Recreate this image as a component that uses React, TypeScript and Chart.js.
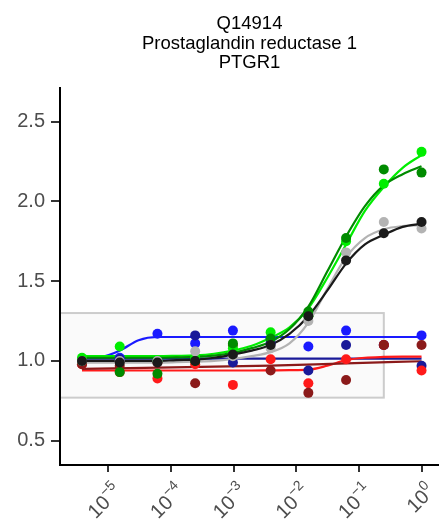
import React, { useEffect, useRef } from "react";
import { Chart, registerables } from "chart.js";

Chart.register(...registerables);

const FONT = '"Liberation Sans", Arial, sans-serif';

const TITLE_LINES = ["Q14914", "Prostaglandin reductase 1", "PTGR1"];

// concentrations (4-fold dilution series)
const CONCENTRATIONS = [
  3.814697265625e-6, 1.52587890625e-5, 6.103515625e-5, 2.44140625e-4, 9.765625e-4,
  3.90625e-3, 0.015625, 0.0625, 0.25, 1,
];

// measured points
const BLACK_PTS = [1.0, 0.99, 0.99, 1.0, 1.04, 1.1, 1.28, 1.63, 1.8, 1.87];
const GRAY_PTS = [1.0, 1.0, 1.0, 1.06, 1.03, 1.08, 1.25, 1.68, 1.87, 1.83];
const DARKGREEN_PTS = [1.0, 0.93, 0.92, 1.0, 1.11, 1.14, 1.31, 1.77, 2.2, 2.18];
const LIME_PTS = [1.02, 1.09, 1.0, 1.02, 1.08, 1.18, 1.28, 1.75, 2.11, 2.31];
const DARKRED_PTS = [0.98, 0.97, 0.99, 0.86, 1.1, 0.94, 0.8, 0.88, 1.1, 1.1];
const RED_PTS = [0.98, 0.93, 0.89, 0.98, 0.85, 1.01, 0.86, 1.01, 1.1, 0.94];
const NAVY_PTS = [1.0, 1.01, 1.0, 1.16, 0.99, 1.11, 0.94, 1.1, 1.1, 0.97];
const BLUE_PTS = [1.0, 1.02, 1.17, 1.11, 1.19, 1.14, 1.09, 1.19, 1.1, 1.16];

// fitted curves, read at 2-fold steps
const CURVE_X = [
  3.814697265625e-6, 7.62939453125e-6, 1.52587890625e-5, 3.0517578125e-5, 6.103515625e-5,
  1.220703125e-4, 2.44140625e-4, 4.8828125e-4, 9.765625e-4, 1.953125e-3, 3.90625e-3,
  7.8125e-3, 0.015625, 0.03125, 0.0625, 0.125, 0.25, 0.5, 1,
];
const BLACK_FIT = [1.0, 1.0, 1.0, 1.0, 1.0, 1.005, 1.008, 1.02, 1.04, 1.065, 1.1, 1.17, 1.28, 1.44, 1.61, 1.73, 1.79, 1.84, 1.86];
const GRAY_FIT = [0.99, 0.99, 0.99, 0.99, 0.99, 0.992, 0.995, 1.0, 1.012, 1.03, 1.055, 1.11, 1.24, 1.45, 1.65, 1.77, 1.825, 1.845, 1.85];
const DARKGREEN_FIT = [1.02, 1.02, 1.02, 1.02, 1.02, 1.022, 1.025, 1.033, 1.05, 1.08, 1.12, 1.2, 1.34, 1.56, 1.78, 1.97, 2.1, 2.17, 2.22];
const LIME_FIT = [1.03, 1.03, 1.03, 1.03, 1.03, 1.032, 1.035, 1.045, 1.065, 1.095, 1.145, 1.21, 1.33, 1.52, 1.73, 1.94, 2.09, 2.21, 2.29];
const RED_FIT = [0.94, 0.94, 0.94, 0.94, 0.94, 0.94, 0.94, 0.94, 0.94, 0.94, 0.941, 0.942, 0.945, 0.97, 1.005, 1.02, 1.025, 1.027, 1.027];
const BLUE_FIT = [1.02, 1.025, 1.065, 1.13, 1.15, 1.15, 1.15, 1.15, 1.15, 1.15, 1.15, 1.15, 1.15, 1.15, 1.15, 1.15, 1.15, 1.15, 1.15];
const NAVY_FIT_X = [3.814697265625e-6, 1];
const NAVY_FIT = [1.015, 1.015];
const DARKRED_FIT_X = [3.814697265625e-6, 3.90625e-3, 0.0625, 1];
const DARKRED_FIT = [0.95, 0.97, 0.985, 0.998];

const X_TICKS = [1e-5, 1e-4, 1e-3, 1e-2, 1e-1, 1];
const X_TICK_BASES = ["10", "10", "10", "10", "10", "10"];
const X_TICK_EXPONENTS = ["−5", "−4", "−3", "−2", "−1", "0"];
const Y_TICKS = [0.5, 1.0, 1.5, 2.0, 2.5];
const X_MIN = 1.7e-6;
const X_MAX = 1.9;
const Y_MIN = 0.348;
const Y_MAX = 2.71;

const BOX_X_MAX = 0.25;
const BOX_Y_MIN = 0.77;
const BOX_Y_MAX = 1.3;

const SERIES = [
  { color: "#1a1a1a", pts: BLACK_PTS, fitX: CURVE_X, fit: BLACK_FIT },
  { color: "#b3b3b3", pts: GRAY_PTS, fitX: CURVE_X, fit: GRAY_FIT },
  { color: "#008b00", pts: DARKGREEN_PTS, fitX: CURVE_X, fit: DARKGREEN_FIT },
  { color: "#00ee00", pts: LIME_PTS, fitX: CURVE_X, fit: LIME_FIT },
  { color: "#8b1a1a", pts: DARKRED_PTS, fitX: DARKRED_FIT_X, fit: DARKRED_FIT },
  { color: "#ff1a1a", pts: RED_PTS, fitX: CURVE_X, fit: RED_FIT },
  { color: "#1a1a99", pts: NAVY_PTS, fitX: NAVY_FIT_X, fit: NAVY_FIT },
  { color: "#1a1aff", pts: BLUE_PTS, fitX: CURVE_X, fit: BLUE_FIT },
];

const TICK_FONT_SIZE = 20;
const EXP_FONT_SIZE = 14;

const backgroundPlugin = {
  id: "bgBoxTitle",
  beforeDraw(chart: any) {
    const { ctx, chartArea, scales } = chart;
    const x = scales.x;
    const y = scales.y;
    ctx.save();
    ctx.fillStyle = "#ffffff";
    ctx.fillRect(0, 0, chart.width, chart.height);
    const left = chartArea.left;
    const right = x.getPixelForValue(BOX_X_MAX);
    const top = y.getPixelForValue(BOX_Y_MAX);
    const bottom = y.getPixelForValue(BOX_Y_MIN);
    ctx.fillStyle = "#fafafa";
    ctx.fillRect(left, top, right - left, bottom - top);
    ctx.strokeStyle = "#cccccc";
    ctx.lineWidth = 2;
    ctx.strokeRect(left, top, right - left, bottom - top);
    ctx.fillStyle = "#000000";
    ctx.font = `18.5px ${FONT}`;
    ctx.textAlign = "center";
    ctx.textBaseline = "alphabetic";
    const cx = (chartArea.left + chartArea.right) / 2;
    const baselines = [29, 48.5, 68];
    TITLE_LINES.forEach((t, i) => ctx.fillText(t, cx, baselines[i]));
    ctx.restore();
  },
  afterDraw(chart: any) {
    const { ctx, chartArea, scales } = chart;
    const x = scales.x;
    ctx.save();
    ctx.fillStyle = "#4d4d4d";
    X_TICKS.forEach((v, i) => {
      const px = x.getPixelForValue(v);
      ctx.save();
      ctx.translate(px + 1, chartArea.bottom + 14);
      ctx.rotate(-Math.PI / 4);
      ctx.textBaseline = "alphabetic";
      ctx.textAlign = "right";
      ctx.font = `${EXP_FONT_SIZE}px ${FONT}`;
      const ew = ctx.measureText(X_TICK_EXPONENTS[i]).width;
      ctx.fillText(X_TICK_EXPONENTS[i], 0, 10);
      ctx.font = `${TICK_FONT_SIZE}px ${FONT}`;
      ctx.fillText(X_TICK_BASES[i], -ew, 19);
      ctx.restore();
    });
    ctx.restore();
  },
};

export default function App() {
  const ref = useRef<HTMLCanvasElement | null>(null);
  useEffect(() => {
    if (!ref.current) return;
    const n = SERIES.length;
    const pointSets = SERIES.map((s, i) => ({
      type: "scatter" as const,
      data: CONCENTRATIONS.map((c, j) => ({ x: c, y: s.pts[j] })),
      backgroundColor: s.color,
      borderColor: s.color,
      borderWidth: 0,
      pointRadius: 5,
      showLine: false,
      order: i,
    }));
    const lineSets = SERIES.map((s, i) => ({
      type: "scatter" as const,
      data: s.fitX.map((c, j) => ({ x: c, y: s.fit[j] })),
      borderColor: s.color,
      backgroundColor: s.color,
      borderWidth: 2.2,
      pointRadius: 0,
      showLine: true,
      cubicInterpolationMode: "monotone" as const,
      order: n + i,
    }));
    const chart = new Chart(ref.current, {
      type: "scatter",
      data: { datasets: [...pointSets, ...lineSets] as any },
      options: {
        animation: false,
        responsive: false,
        layout: { autoPadding: false, padding: { top: 88, left: 0, right: 0, bottom: 0 } },
        plugins: { legend: { display: false }, tooltip: { enabled: false }, title: { display: false } },
        scales: {
          x: {
            type: "logarithmic",
            min: X_MIN,
            max: X_MAX,
            afterBuildTicks: (scale: any) => {
              scale.ticks = X_TICKS.map((v) => ({ value: v }));
            },
            afterFit: (scale: any) => {
              scale.height = 63;
              scale.paddingLeft = 0;
              scale.paddingRight = 0;
            },
            grid: { drawOnChartArea: false, drawTicks: true, tickLength: 7, color: "#333333", lineWidth: 2 },
            border: { display: true, color: "#000000", width: 2 },
            ticks: {
              autoSkip: false,
              maxRotation: 0,
              minRotation: 0,
              color: "rgba(0,0,0,0)",
              font: { family: FONT, size: 10 },
              callback: () => "",
            },
          },
          y: {
            type: "linear",
            min: Y_MIN,
            max: Y_MAX,
            afterBuildTicks: (scale: any) => {
              scale.ticks = Y_TICKS.map((v) => ({ value: v }));
            },
            afterFit: (scale: any) => {
              scale.width = 60;
            },
            grid: { drawOnChartArea: false, drawTicks: true, tickLength: 9, color: "#333333", lineWidth: 2 },
            border: { display: true, color: "#000000", width: 2 },
            ticks: {
              color: "#4d4d4d",
              padding: 6,
              font: { family: FONT, size: TICK_FONT_SIZE },
              callback: (v: any) => Number(v).toFixed(1),
            },
          },
        },
      },
      plugins: [backgroundPlugin],
    });
    return () => chart.destroy();
  }, []);
  return (
    <div style={{ position: "absolute", left: 0, top: 0, width: 439, height: 528 }}>
      <canvas ref={ref} width={439} height={528} style={{ display: "block" }} />
    </div>
  );
}
